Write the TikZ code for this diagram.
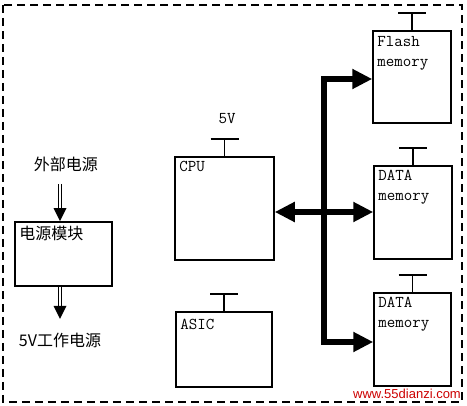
\documentclass[tikz,border=0pt]{standalone}
\usepackage{fontspec}
\setmainfont{Liberation Serif}
\newfontfamily\cjk{Noto Sans CJK SC}
\newfontfamily\monof{Latin Modern Mono}
\newfontfamily\wmfont{Liberation Sans}
\usetikzlibrary{arrows.meta,calc}
\newcommand\vstub[2]{%
  \draw[stubline] (#1.north) -- ++(0,-17) coordinate (#2);
  \draw[stubline] ([xshift=-14pt]#2) -- ([xshift=14pt]#2);}
\begin{document}
\begin{tikzpicture}[x=1pt,y=-1pt,
  box/.style={draw, line width=1.5pt, inner sep=0pt},
  lbl/.style={font=\monof\fontsize{16.5}{20}\selectfont, align=left, inner sep=0pt, anchor=north west},
  cjklbl/.style={font=\cjk\fontsize{16}{18}\selectfont, inner sep=0pt},
  bus/.style={line width=6.5pt, line join=miter,
    {Triangle[length=20pt,width=19pt]}-{Triangle[length=20pt,width=19pt]}},
  stubline/.style={line width=1.5pt},
  border/.style={line width=1.6pt, dash pattern=on 8pt off 5pt},
  dshaft/.style={double, double distance=2.6pt, line width=0.9pt}]
\useasboundingbox (0,0) rectangle (467,406);
% outer dashed frame
\draw[border] (3,5) rectangle (462,402);

% boxes
\node[box, minimum width=78pt, minimum height=92pt] (flash) at (412,77) {};
\node[box, minimum width=78pt, minimum height=93pt] (data1) at (413,212.5) {};
\node[box, minimum width=77pt, minimum height=93pt] (data2) at (412.5,339.5) {};
\node[box, minimum width=99pt, minimum height=103pt] (cpu) at (224.5,208.5) {};
\node[box, minimum width=96pt, minimum height=75pt] (asic) at (224,349.5) {};
\node[box, minimum width=97pt, minimum height=64pt] (pm) at (63.5,254) {};

% labels inside boxes
\node[lbl] (flashlbl) at ([shift={(5,6)}]flash.north west) {Flash\\memory};
\node[lbl] (data1lbl) at ([shift={(5,5)}]data1.north west) {DATA\\memory};
\node[lbl] (data2lbl) at ([shift={(5,5)}]data2.north west) {DATA\\memory};
\node[lbl] (cpulbl) at ([shift={(5,5)}]cpu.north west) {CPU};
\node[lbl] (asiclbl) at ([shift={(5,8)}]asic.north west) {ASIC};
\node[cjklbl, anchor=north west] (pmlbl) at ([shift={(5,5)}]pm.north west) {电源模块};

% supply stubs
\vstub{flash}{fs}
\vstub{data1}{d1s}
\vstub{data2}{d2s}
\vstub{cpu}{cs}
\vstub{asic}{as}
\node[font=\monof\fontsize{16.5}{18}\selectfont, inner sep=0pt] (fivev) at (227,119) {5V};

% bus
\coordinate (b1) at (324,79);
\coordinate (b2) at (324,342);
\coordinate (m) at (324,212);
\draw[bus] (flash.west |- b1) -- (b1) -- (b2) -- (data2.west |- b2);
\draw[bus] (cpu.east |- m) -- (data1.west |- m);

% power module arrows
\node[cjklbl] (ext) at (66,164) {外部电源};
\node[cjklbl] (out) at (60,340) {5V工作电源};
\coordinate (a1) at (60,184);
\coordinate (a2) at (60,319);
\draw[dshaft] (a1) -- ([yshift=11pt]pm.north -| a1);
\fill (pm.north -| a1) -- ++(-6.5,-13) -- ++(13,0) -- cycle;
\draw[dshaft] (pm.south -| a1) -- ([yshift=11pt]a2);
\fill (a2) -- ++(-6.5,-13) -- ++(13,0) -- cycle;

% watermark
\node[text={rgb,255:red,204;green,0;blue,0}, font=\wmfont\fontsize{13}{15}\selectfont, inner sep=0pt] (wm) at (407,394) {www.55dianzi.com};
\end{tikzpicture}
\end{document}
